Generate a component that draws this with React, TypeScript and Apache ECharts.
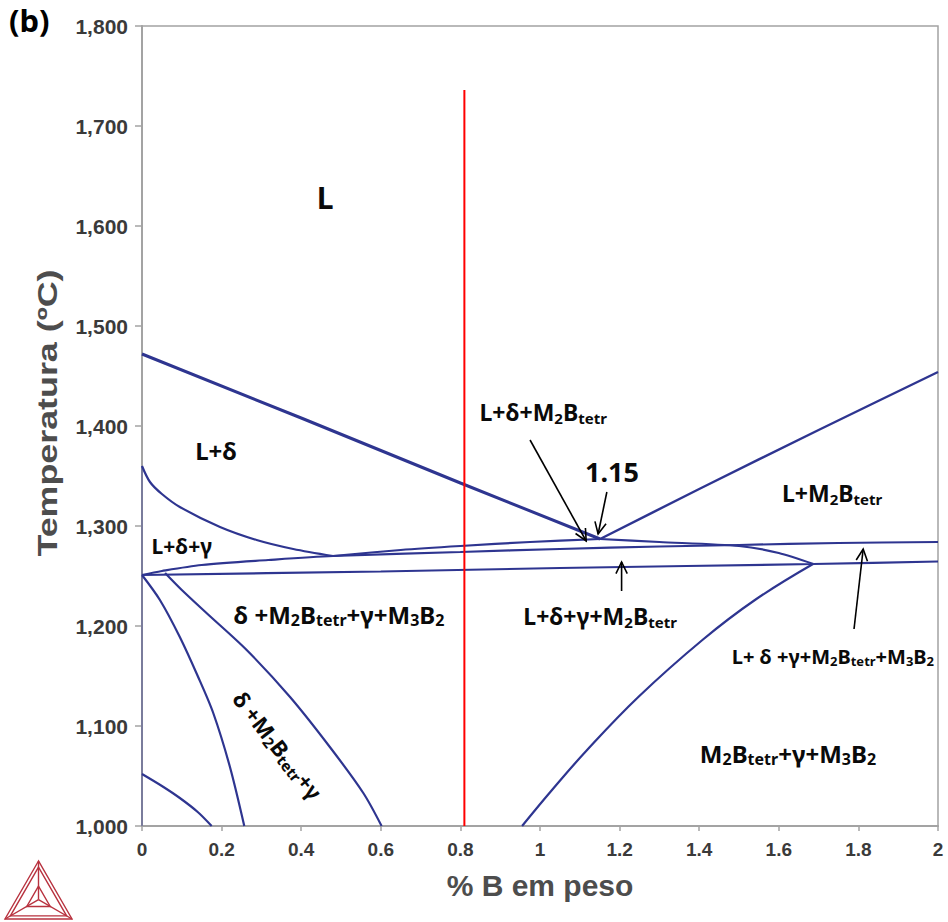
import React, { useEffect, useRef } from 'react';
import * as echarts from 'echarts';

const W = 948;
const H = 922;

// Axis ranges
const compMin = 0;
const compMax = 2;
const compStep = 0.2;
const tempMin = 1000;
const tempMax = 1800;
const tempStep = 100;

// Phase boundaries, [wt% B, temperature °C]
const liquidusDelta = [[0, 1472], [0.4, 1408], [0.8, 1343], [1.151, 1287]];
const liquidusM2B = [[1.151, 1287], [1.4, 1337], [1.7, 1396], [2, 1454]];
const deltaSolidus = [[0, 1360], [0.02, 1344], [0.05, 1332], [0.095, 1319], [0.196, 1299], [0.288, 1286], [0.38, 1277], [0.48, 1270]];
const gammaLower = [[0, 1251], [0.05, 1255], [0.15, 1261], [0.317, 1266], [0.48, 1270], [0.8, 1274], [1.05, 1277], [1.3, 1279.5], [1.5, 1281], [1.75, 1283], [2, 1284]];
const m2bStart = [[0.48, 1270], [0.65, 1276], [0.8, 1280], [0.975, 1284], [1.151, 1287]];
const m2bDescent = [[1.151, 1287], [1.3, 1284], [1.5, 1280], [1.6, 1273], [1.687, 1262]];
const solidus = [[0, 1251], [0.6, 1254.5], [1.05, 1258], [1.687, 1262], [2, 1264.5]];
const m3b2Boundary = [[1.686, 1262], [1.54, 1226], [1.408, 1186], [1.247, 1129], [1.116, 1075], [1.028, 1035], [0.955, 1000]];
const gammaSolvus = [[0, 1251], [0.045, 1226], [0.095, 1189], [0.14, 1150], [0.179, 1113], [0.221, 1059], [0.257, 1000]];
const m2bSolvus = [[0.058, 1253], [0.1, 1236], [0.162, 1213], [0.263, 1176], [0.372, 1129], [0.472, 1079], [0.556, 1033], [0.602, 1000]];
const lowerLeft = [[0, 1052], [0.05, 1040], [0.095, 1028], [0.14, 1014], [0.175, 1000]];
const pureEdge = [[0, 1360], [0, 1000]];
const alloyLine = [[0.81, 1000], [0.81, 1736]];

// Field labels: segments alternate normal / subscript text
const fieldLabels = [
  { parts: ['L'], at: [0.46, 1629], size: 30 },
  { parts: ['L+δ'], at: [0.186, 1376], size: 24 },
  { parts: ['L+δ+γ'], at: [0.1, 1280], size: 21 },
  { parts: ['δ +M', '2', 'B', 'tetr', '+γ+M', '3', 'B', '2'], at: [0.495, 1212], size: 24 },
  { parts: ['δ +M', '2', 'B', 'tetr', '+γ'], at: [0.342, 1081], size: 22, rotation: -0.91 },
  { parts: ['L+δ+M', '2', 'B', 'tetr'], at: [1.008, 1414], size: 23 },
  { parts: ['1.15'], at: [1.181, 1355], size: 27 },
  { parts: ['L+M', '2', 'B', 'tetr'], at: [1.734, 1333], size: 23 },
  { parts: ['L+δ+γ+M', '2', 'B', 'tetr'], at: [1.151, 1210], size: 23 },
  { parts: ['L+ δ +γ+M', '2', 'B', 'tetr', '+M', '3', 'B', '2'], at: [1.736, 1170], size: 20 },
  { parts: ['M', '2', 'B', 'tetr', '+γ+M', '3', 'B', '2'], at: [1.623, 1073], size: 24 },
];

// Pointer arrows, [tail, head] in wt% B / °C
const pointers = [
  [[0.975, 1386], [1.116, 1285]],
  [[1.168, 1334], [1.146, 1292]],
  [[1.205, 1235], [1.205, 1264]],
  [[1.789, 1197], [1.812, 1277]],
];

const BLUE = '#2e3590';
const AXIS = '#a3a3a3';
const INK = '#0a0a0a';
const LABEL_FONT = 'Noto Sans';
const TICK_FONT = 'Liberation Sans';

function boundary(data: number[][], width = 2.2, smooth: number | boolean = 0.3) {
  return {
    type: 'line',
    data,
    showSymbol: false,
    symbol: 'none',
    smooth,
    silent: true,
    lineStyle: { color: BLUE, width },
    z: 3,
  };
}

function richText(parts: string[]) {
  return parts.map((p, i) => (i % 2 === 0 ? `{m|${p}}` : `{s|${p}}`)).join('');
}

export default function App() {
  const ref = useRef<HTMLDivElement>(null);

  useEffect(() => {
    document.body.style.margin = '0';
    const chart = echarts.init(ref.current!, null, { renderer: 'svg' });

    chart.setOption({
      animation: false,
      backgroundColor: '#ffffff',
      grid: {
        left: 142,
        right: W - 938,
        top: 26,
        bottom: H - 826,
        show: true,
        borderColor: AXIS,
        borderWidth: 1.5,
      },
      xAxis: {
        type: 'value',
        min: compMin,
        max: compMax,
        interval: compStep,
        axisLine: { show: true, onZero: false, lineStyle: { color: AXIS, width: 2 } },
        axisTick: { show: true, length: 5, lineStyle: { color: AXIS, width: 1.5 } },
        splitLine: { show: false },
        axisLabel: {
          margin: 14,
          fontSize: 19,
          fontWeight: 'bold',
          fontFamily: TICK_FONT,
          color: '#3a3a3a',
          showMinLabel: true,
          showMaxLabel: true,
          formatter: (v: number) => String(Number(v.toFixed(1))),
        },
        name: '% B em peso',
        nameLocation: 'middle',
        nameGap: 44,
        nameTextStyle: { fontSize: 30, fontWeight: 'bold', fontFamily: TICK_FONT, color: '#4d4d4d' },
      },
      yAxis: {
        type: 'value',
        min: tempMin,
        max: tempMax,
        interval: tempStep,
        axisLine: { show: true, onZero: false, lineStyle: { color: AXIS, width: 2 } },
        axisTick: { show: true, length: 7, lineStyle: { color: AXIS, width: 1.5 } },
        splitLine: { show: false },
        axisLabel: {
          margin: 14,
          fontSize: 21,
          fontWeight: 'bold',
          fontFamily: TICK_FONT,
          color: '#3a3a3a',
          showMinLabel: true,
          showMaxLabel: true,
          formatter: (v: number) => v.toLocaleString('en-US'),
        },
      },
      series: [
        { ...boundary(pureEdge, 2, false), lineStyle: { color: BLUE, width: 2, opacity: 0.35 } },
        boundary(liquidusDelta, 3, false),
        boundary(liquidusM2B, 2.4, 0.2),
        boundary(deltaSolidus),
        boundary(gammaLower),
        boundary(m2bStart),
        boundary(m2bDescent, 2.2, 0.25),
        boundary(solidus, 2.2, 0.2),
        boundary(m3b2Boundary, 2.2, 0.4),
        boundary(gammaSolvus),
        boundary(m2bSolvus),
        boundary(lowerLeft),
        {
          type: 'line',
          data: alloyLine,
          showSymbol: false,
          symbol: 'none',
          silent: true,
          lineStyle: { color: '#ff0000', width: 2 },
          z: 5,
        },
      ],
    });

    const toPx = (p: number[]) => chart.convertToPixel({ gridIndex: 0 }, p) as number[];

    const graphics: any[] = [];

    // Vertical axis title, stretched along its length
    graphics.push({
      type: 'text',
      x: 47,
      y: 413,
      rotation: Math.PI / 2,
      scaleX: 1.28,
      z: 10,
      style: {
        text: 'Temperatura (ºC)',
        fontSize: 28,
        fontWeight: 'bold',
        fontFamily: TICK_FONT,
        fill: '#4d4d4d',
        align: 'center',
        verticalAlign: 'middle',
      },
    });

    fieldLabels.forEach((lab) => {
      const [x, y] = toPx(lab.at);
      const sub = Math.round(lab.size * 0.66);
      graphics.push({
        type: 'text',
        x,
        y,
        rotation: lab.rotation || 0,
        z: 10,
        style: {
          text: richText(lab.parts),
          align: 'center',
          verticalAlign: 'middle',
          rich: {
            m: { fontSize: lab.size, fontWeight: 'bold', fontFamily: LABEL_FONT, fill: INK },
            s: { fontSize: sub, fontWeight: 'bold', fontFamily: LABEL_FONT, fill: INK, padding: [Math.round(lab.size * 0.5), 0, 0, 0] },
          },
        },
      });
    });

    pointers.forEach(([tail, head]) => {
      const t = toPx(tail);
      const h = toPx(head);
      const dx = h[0] - t[0];
      const dy = h[1] - t[1];
      const len = Math.hypot(dx, dy);
      const ux = dx / len;
      const uy = dy / len;
      const L = 13;
      const a = 0.45;
      const wing = (s: number) => {
        const c = Math.cos(s * a);
        const sn = Math.sin(s * a);
        const rx = ux * c - uy * sn;
        const ry = ux * sn + uy * c;
        return [h[0] - rx * L, h[1] - ry * L];
      };
      graphics.push({
        type: 'polyline',
        z: 10,
        shape: { points: [t, h] },
        style: { stroke: '#000', lineWidth: 1.6, fill: null },
      });
      graphics.push({
        type: 'polyline',
        z: 10,
        shape: { points: [wing(1), h, wing(-1)] },
        style: { stroke: '#000', lineWidth: 1.6, fill: null },
      });
    });

    // Panel tag
    graphics.push({
      type: 'text',
      left: 9,
      top: 4,
      z: 10,
      style: { text: '(b)', fontSize: 31, fontWeight: 'bold', fontFamily: LABEL_FONT, fill: '#000' },
    });

    // Software emblem (triangle mark) in the lower-left corner
    const A = [38.5, 861];
    const B = [5, 919];
    const C = [72, 919];
    const G = [(A[0] + B[0] + C[0]) / 3, (A[1] + B[1] + C[1]) / 3];
    const shrink = (p: number[], k: number) => [G[0] + (p[0] - G[0]) * k, G[1] + (p[1] - G[1]) * k];
    const RED = '#b8323f';
    const emblem = [
      { type: 'polygon', shape: { points: [A, B, C] } },
      { type: 'polygon', shape: { points: [shrink(A, 0.84), shrink(B, 0.84), shrink(C, 0.84)] } },
      { type: 'polygon', shape: { points: [shrink(A, 0.35), shrink(B, 0.35), shrink(C, 0.35)] } },
      { type: 'polyline', shape: { points: [A, G] } },
      { type: 'polyline', shape: { points: [B, G] } },
      { type: 'polyline', shape: { points: [C, G] } },
    ];
    emblem.forEach((e) =>
      graphics.push({ ...e, z: 10, style: { stroke: RED, lineWidth: 1.4, fill: null } })
    );

    chart.setOption({ graphic: graphics });

    return () => chart.dispose();
  }, []);

  return <div ref={ref} style={{ width: W, height: H }} />;
}
